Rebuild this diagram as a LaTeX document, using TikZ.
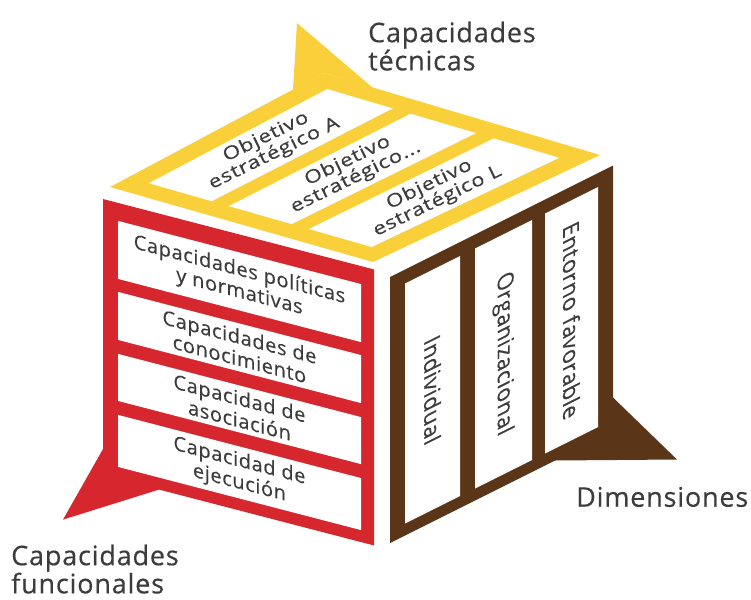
\documentclass[tikz,border=0pt]{standalone}
\usepackage{fontspec}
\setmainfont{Open Sans}[LetterSpace=3, FakeBold=0.4]
\usetikzlibrary{calc}
\definecolor{cyel}{RGB}{249,208,58}
\definecolor{cred}{RGB}{214,39,46}
\definecolor{cbrn}{RGB}{91,53,23}
\definecolor{ctxt}{RGB}{60,60,60}
\newcommand\tfpt[3]{\path ($(L)!#3!(B)$) coordinate (tmpa) ($(F)!#3!(R)$) coordinate (tmpb) ($(tmpa)!#2!(tmpb)$) coordinate (#1);}
\tikzset{
  lbl/.style={inner sep=0pt, text=ctxt, align=left, font=\fontsize{27}{27}\selectfont},
  toptext/.style={inner sep=0pt, text=ctxt, align=center, font=\fontsize{22.5}{23}\selectfont, rotate=26, yscale=0.8},
  redtext/.style={inner sep=0pt, text=ctxt, align=center, font=\fontsize{20}{22}\selectfont, yslant=-0.26},
  brntext/.style={inner sep=0pt, text=ctxt, font=\fontsize{22}{24}\selectfont, cm={0,-1,1,0.5,(0,0)}},
}
\begin{document}
\begin{tikzpicture}[x=1pt,y=-1pt]
\useasboundingbox (0,0) rectangle (751,599);
% ---------- top face (yellow) ----------
\coordinate (L) at (110,187);
\coordinate (F) at (373,262);
\coordinate (R) at (600,155);
\coordinate (B) at (324,73);
\coordinate (ytipl) at (293,90);
\coordinate (ytip) at (297,23);
\coordinate (ytipr) at (373,88);
\fill[cyel] (L) -- (F) -- (R) -- (B) -- cycle;
\fill[cyel] (ytipl) -- (ytip) -- (ytipr) -- (B) -- cycle;
\foreach \n/\sa/\sb in {A/0.078/0.316, M/0.381/0.619, Z/0.684/0.922}{
  \tfpt{\n1}{\sa}{0.085}
  \tfpt{\n2}{\sb}{0.085}
  \tfpt{\n3}{\sb}{0.915}
  \tfpt{\n4}{\sa}{0.915}
  \fill[white] (\n1) -- (\n2) -- (\n3) -- (\n4) -- cycle;
}
\tfpt{cA}{0.197}{0.5}
\tfpt{cM}{0.5}{0.5}
\tfpt{cZ}{0.803}{0.5}
\node[toptext] (tA) at (cA) {Objetivo\\estratégico A};
\node[toptext] (tM) at (cM) {Objetivo\\estratégico...};
\node[toptext] (tZ) at (cZ) {Objetivo\\estratégico L};
% ---------- front face (red) ----------
\begin{scope}[shift={(103,199)}, x={(1pt,-0.26pt)}, y={(0pt,-1pt)}]
  \fill[cred] (0,0) -- (271,0) -- (271,276) -- (0,276) -- cycle;
  \fill[cred] (0,250) -- (-40,331) -- (56,276) -- cycle;
  \foreach \ta/\tb in {18/76, 89/137, 151/198, 212/264}{
    \fill[white] (15,\ta) -- (258,\ta) -- (258,\tb) -- (15,\tb) -- cycle;
  }
  \node[redtext] (r1) at (136.5,47) {Capacidades políticas\\y normativas};
  \node[redtext] (r2) at (136.5,113) {Capacidades de\\conocimiento};
  \node[redtext] (r3) at (136.5,174.5) {Capacidad de\\asociación};
  \node[redtext] (r4) at (136.5,238) {Capacidad de\\ejecución};
\end{scope}
% ---------- side face (brown) ----------
\begin{scope}[shift={(390,277)}, x={(1pt,0.5pt)}, y={(0pt,-1pt)}]
  \fill[cbrn] (0,0) -- (223,0) -- (223,266) -- (0,266) -- cycle;
  \fill[cbrn] (223,232) -- (287,326) -- (165,266) -- cycle;
  \foreach \xa/\xb in {15/70, 85/142, 155/208}{
    \fill[white] (\xa,14) -- (\xb,14) -- (\xb,254) -- (\xa,254) -- cycle;
  }
  \node[brntext] (b1) at (42.5,134) {Individual};
  \node[brntext] (b2) at (113.5,134) {Organizacional};
  \node[brntext] (b3) at (181.5,134) {Entorno favorable};
\end{scope}
% ---------- labels ----------
\node[lbl, anchor=north west] (ltec) at (368,21.5) {Capacidades\\técnicas};
\node[lbl, anchor=north west] (lfun) at (11,544.5) {Capacidades\\funcionales};
\node[lbl, anchor=base west] (ldim) at (576,506.7) {Dimensiones};
\end{tikzpicture}
\end{document}
